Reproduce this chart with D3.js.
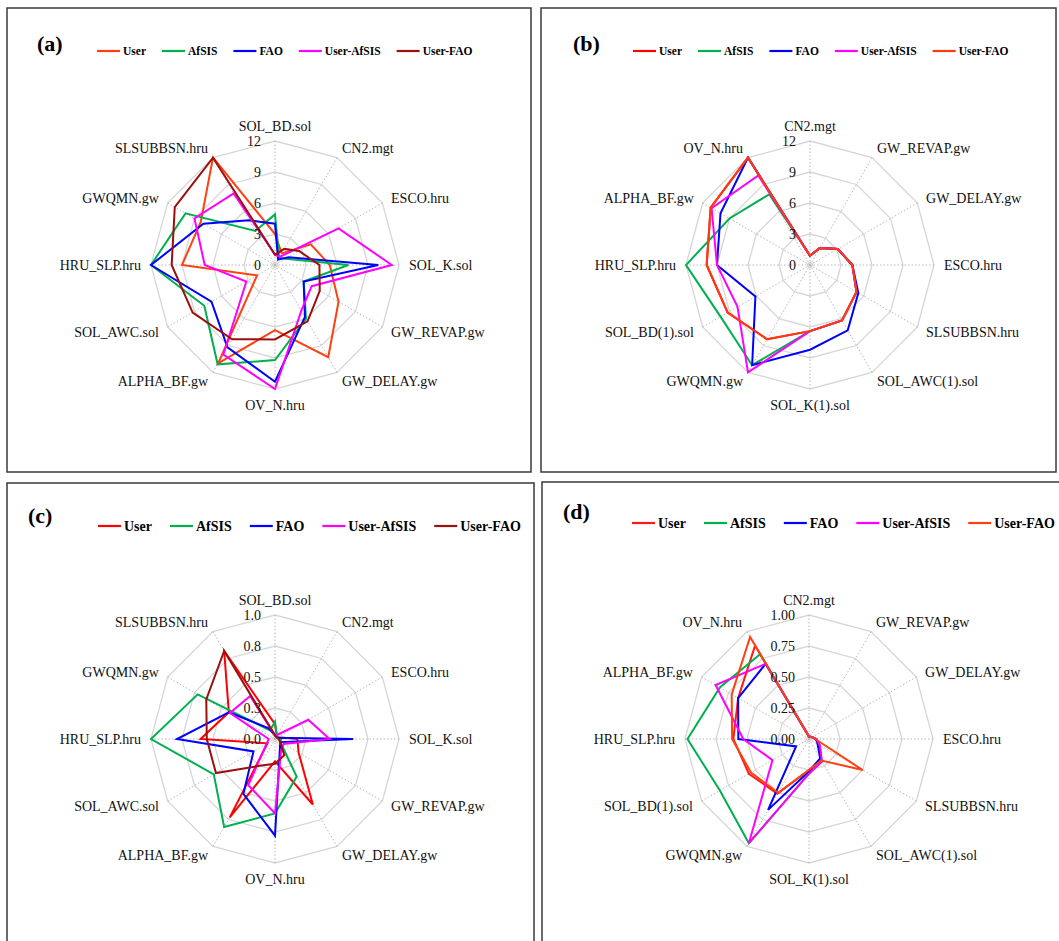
<!DOCTYPE html>
<html><head><meta charset="utf-8">
<script src="https://cdn.jsdelivr.net/npm/d3@7"></script>
<style>body{margin:0;background:#fff} text{font-family:"Liberation Serif","Times New Roman",serif}</style>
</head><body><svg id="chart" width="1059" height="941"></svg>
<script>
const seriesNames = ["User","AfSIS","FAO","User-AfSIS","User-FAO"];

const axesAC = ["SOL_BD.sol","CN2.mgt","ESCO.hru","SOL_K.sol","GW_REVAP.gw","GW_DELAY.gw","OV_N.hru","ALPHA_BF.gw","SOL_AWC.sol","HRU_SLP.hru","GWQMN.gw","SLSUBBSN.hru"];
const axesBD = ["CN2.mgt","GW_REVAP.gw","GW_DELAY.gw","ESCO.hru","SLSUBBSN.hru","SOL_AWC(1).sol","SOL_K(1).sol","GWQMN.gw","SOL_BD(1).sol","HRU_SLP.hru","ALPHA_BF.gw","OV_N.hru"];

const ticksAB = [0,3,6,9,12];
const tickLabelsAB = ["0","3","6","9","12"];
const ticksCD = [0,0.25,0.5,0.75,1];
const tickLabelsC = ["0.0","0.3","0.5","0.8","1.0"];
const tickLabelsD = ["0.00","0.25","0.50","0.75","1.00"];

// Panel (a) ranks
const aUser      = [3.0,1.3,4.0,5.3,7.1,10.3,6.3,11.0,2.0,9.0,8.3,12];
const aAfSIS     = [4.9,0.8,1.2,7.1,3.2,6.0,9.2,11.1,7.9,12,10.0,3.8];
const aFAO       = [4.0,0.6,1.5,10.0,3.2,5.8,11.3,9.2,7.1,12,8.0,5.0];
const aUserAfSIS = [1.0,0.9,7.1,11.3,4.1,5.1,12,10.0,3.2,6.8,9.0,8.0];
const aUserFAO   = [1.0,1.8,2.7,4.3,5.0,6.3,7.2,8.3,9.2,10.0,11.2,12];

// Panel (b) ranks
const bUser      = [0.9,1.9,3.1,4.1,5.2,6.2,6.4,8.3,9.2,10.0,11.1,12];
const bAfSIS     = [0.9,1.9,3.1,4.1,5.2,6.2,6.4,11.2,10.0,12,9.0,7.9];
const bFAO       = [0.9,1.9,3.1,4.1,5.4,7.3,8.2,11.2,6.1,9.0,10.0,12];
const bUserAfSIS = [0.9,1.9,3.1,4.1,5.2,6.2,6.4,12,8.1,9.0,11.0,10.0];
const bUserFAO   = [0.9,1.9,3.1,4.1,5.2,6.2,6.4,8.3,9.2,10.0,11.1,12];

// Panel (c) sensitivity
const cUser      = [0.12,0.03,0.03,0.18,0.22,0.61,0.18,0.73,0.07,0.60,0.43,0.82];
const cAfSIS     = [0.14,0.03,0.03,0.05,0.05,0.35,0.60,0.82,0.57,1.00,0.72,0.08];
const cFAO       = [0.03,0.02,0.02,0.63,0.05,0.08,0.78,0.51,0.20,0.79,0.43,0.10];
const cUserAfSIS = [0.03,0.04,0.31,0.44,0.08,0.10,0.60,0.43,0.08,0.05,0.42,0.40];
const cUserFAO   = [0.03,0.02,0.02,0.03,0.05,0.15,0.20,0.25,0.55,0.55,0.64,0.82];

// Panel (d) sensitivity
const dUser      = [0.02,0.02,0.03,0.05,0.10,0.20,0.25,0.51,0.56,0.61,0.66,0.87];
const dAfSIS     = [0.02,0.02,0.03,0.05,0.10,0.19,0.28,0.97,0.83,0.98,0.83,0.79];
const dFAO       = [0.02,0.02,0.03,0.06,0.08,0.18,0.26,0.66,0.12,0.57,0.66,0.70];
const dUserAfSIS = [0.02,0.02,0.03,0.06,0.10,0.21,0.28,0.97,0.34,0.53,0.87,0.70];
const dUserFAO   = [0.02,0.02,0.03,0.05,0.50,0.20,0.25,0.50,0.54,0.62,0.72,0.95];

const panels = [
  {label:"(a)", box:[7,8,531,472], cx:275, cy:265, labelPos:[37,51], legend:[97,51,11.5,16],
   axes:axesAC, ticks:ticksAB, tickLabels:tickLabelsAB,
   values:[aUser,aAfSIS,aFAO,aUserAfSIS,aUserFAO],
   colors:["#ff4010","#00b050","#0000ff","#ff00ff","#9b0f0f"]},
  {label:"(b)", box:[541,8,1056,472], cx:810, cy:265, labelPos:[573,51], legend:[633,51,11.5,16],
   axes:axesBD, ticks:ticksAB, tickLabels:tickLabelsAB,
   values:[bUser,bAfSIS,bFAO,bUserAfSIS,bUserFAO],
   colors:["#ff0000","#00b050","#0000ff","#ff00ff","#ff3a10"]},
  {label:"(c)", box:[7,483,534,950], cx:275, cy:739, labelPos:[28,523], legend:[98,526,14,18],
   axes:axesAC, ticks:ticksCD, tickLabels:tickLabelsC,
   values:[cUser,cAfSIS,cFAO,cUserAfSIS,cUserFAO],
   colors:["#ff0000","#00b050","#0000ff","#ff00ff","#9b0f0f"]},
  {label:"(d)", box:[542,482,1065,950], cx:809, cy:739, labelPos:[563,519], legend:[632,523,14,18],
   axes:axesBD, ticks:ticksCD, tickLabels:tickLabelsD,
   values:[dUser,dAfSIS,dFAO,dUserAfSIS,dUserFAO],
   colors:["#ff1a1a","#00b050","#0000ff","#ff00ff","#ff4010"]}
];

const R = 124;
const svg = d3.select("#chart");

panels.forEach(p => {
  const n = p.axes.length;
  const ang = i => i * 2 * Math.PI / n;
  const maxV = p.ticks[p.ticks.length-1];
  const r = d3.scaleLinear().domain([0, maxV]).range([0, R]);

  svg.append("rect").attr("x",p.box[0]).attr("y",p.box[1])
    .attr("width",p.box[2]-p.box[0]).attr("height",p.box[3]-p.box[1])
    .attr("fill","none").attr("stroke","#3a3a3a").attr("stroke-width",1.5);

  const g = svg.append("g").attr("transform",`translate(${p.cx},${p.cy})`);

  // rings
  const ringLine = d3.lineRadial().angle((d,i)=>ang(i)).radius(d=>r(d)).curve(d3.curveLinearClosed);
  p.ticks.filter(t=>t>0).forEach(t => {
    g.append("path").attr("d", ringLine(p.axes.map(()=>t)))
      .attr("fill","none").attr("stroke","#d6d6d6").attr("stroke-width",1.3);
  });
  g.append("circle").attr("r",2.5).attr("fill","none").attr("stroke","#c8c8c8").attr("stroke-width",1);

  // spokes
  p.axes.forEach((a,i) => {
    g.append("line").attr("x1",0).attr("y1",0)
      .attr("x2", r(maxV)*Math.sin(ang(i))).attr("y2", -r(maxV)*Math.cos(ang(i)))
      .attr("stroke","#b8b8b8").attr("stroke-width",1).attr("stroke-dasharray","1.5,2");
  });

  // axis labels
  p.axes.forEach((a,i) => {
    const s = Math.sin(ang(i)), c = Math.cos(ang(i));
    const rr = R + 10;
    let x = rr*s, y = -rr*c;
    let anchor = s > 0.1 ? "start" : (s < -0.1 ? "end" : "middle");
    if (Math.abs(s) < 0.1) y += (c > 0 ? -5 : 6);
    g.append("text").attr("x",x).attr("y",y).attr("text-anchor",anchor)
      .attr("dominant-baseline","central").attr("font-size",14).attr("fill","#111").text(a);
  });

  // series
  const line = d3.lineRadial().angle((d,i)=>ang(i)).radius(d=>r(d)).curve(d3.curveLinearClosed);
  p.values.forEach((vals,k) => {
    g.append("path").attr("d", line(vals)).attr("fill","none")
      .attr("stroke", p.colors[k]).attr("stroke-width",2).attr("stroke-linejoin","miter");
  });

  // tick labels
  p.ticks.forEach((t,i) => {
    g.append("text").attr("x",-14).attr("y",-r(t)).attr("text-anchor","end")
      .attr("dominant-baseline","central").attr("font-size",14).attr("fill","#111")
      .text(p.tickLabels[i]);
  });

  // panel label
  svg.append("text").attr("x",p.labelPos[0]).attr("y",p.labelPos[1])
    .attr("font-size",22).attr("font-weight","bold").text(p.label);

  // legend
  let lx = p.legend[0];
  const ly = p.legend[1], fs = p.legend[2], gap = p.legend[3];
  seriesNames.forEach((name,k) => {
    svg.append("line").attr("x1",lx).attr("x2",lx+23).attr("y1",ly).attr("y2",ly)
      .attr("stroke",p.colors[k]).attr("stroke-width",2.2);
    const t = svg.append("text").attr("x",lx+26).attr("y",ly).attr("dominant-baseline","central")
      .attr("font-size",fs).attr("font-weight","bold").text(name);
    lx += 26 + t.node().getComputedTextLength() + gap;
  });
});
</script></body></html>
